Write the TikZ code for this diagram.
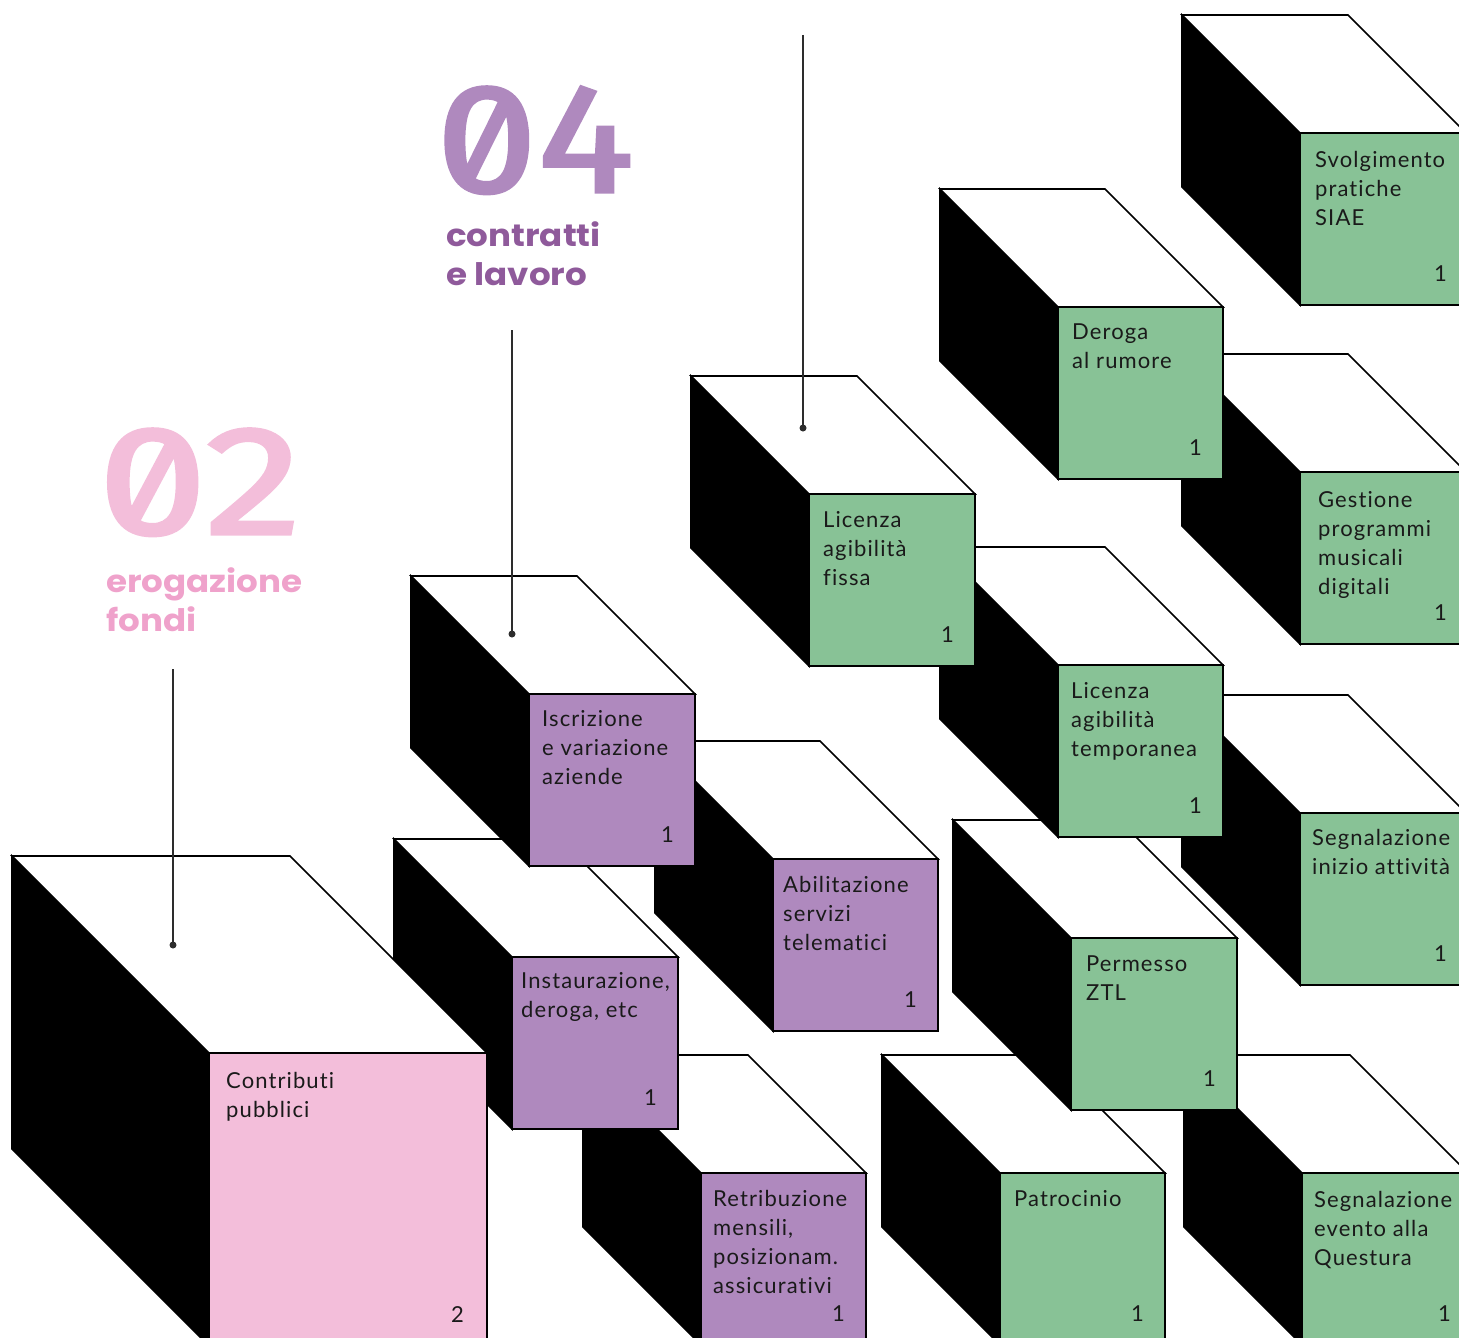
\documentclass[tikz,border=0pt]{standalone}
\usepackage{fontspec}
\setmainfont{Lato}
\newfontfamily\boxfont{Lato}[LetterSpace=5, Ligatures=NoCommon]
\newfontfamily\headfont{Poppins}
\newfontfamily\digitfont{Fira Sans}[Numbers=SlashedZero, FakeBold=2]
\definecolor{grn}{RGB}{136,194,150}
\definecolor{prp}{RGB}{175,137,190}
\definecolor{pnk}{RGB}{243,190,218}
\definecolor{prpdark}{RGB}{143,90,155}
\definecolor{pnkdark}{RGB}{239,162,203}
\definecolor{textc}{RGB}{26,26,26}
\definecolor{linec}{RGB}{45,45,45}
\tikzset{
  sideface/.style={fill=black, draw=black, line width=1.6pt, line join=miter},
  topface/.style={fill=white, draw=black, line width=1.6pt, line join=miter},
  front/.style={draw=black, line width=1.6pt, anchor=north west, inner sep=0pt, outer sep=0pt},
  lbl/.style={anchor=base west, inner sep=0pt, text=textc, font=\boxfont\fontsize{22}{29}\selectfont},
  num/.style={anchor=base east, inner sep=0pt, text=textc, font=\boxfont\fontsize{22}{29}\selectfont},
  digits/.style={anchor=base west, inner sep=0pt, text depth=0pt, font=\digitfont\fontsize{155}{155}\selectfont},
  heading/.style={anchor=base west, inner sep=0pt, font=\headfont\bfseries\fontsize{31}{39}\selectfont},
  leaddot/.style={circle, fill=linec, inner sep=0pt, minimum size=7pt},
  lead/.style={draw=linec, line width=1.3pt}
}
% #1 name, #2 x, #3 y, #4 w, #5 h, #6 depth, #7 colour
\newcommand{\cube}[7]{%
  \path[sideface] ({#2-#6},{#3-#6}) -- (#2,#3) -- (#2,{#3+#5}) -- ({#2-#6},{#3+#5-#6}) -- cycle;
  \path[topface] ({#2-#6},{#3-#6}) -- ({#2+#4-#6},{#3-#6}) -- ({#2+#4},#3) -- (#2,#3) -- cycle;
  \node[front, fill=#7, minimum width=#4pt, minimum height=#5pt] (#1) at (#2,#3) {};
}
\newcommand{\lns}[1]{\vtop{\hsize=300pt\parindent=0pt\baselineskip=29pt\raggedright\leavevmode #1}}
\newcommand{\hlns}[1]{\scalebox{1.1}[1]{\vtop{\hsize=300pt\parindent=0pt\baselineskip=39pt\raggedright\leavevmode #1}}}
\begin{document}
\begin{tikzpicture}[x=1pt,y=-1pt]
\useasboundingbox (0,0) rectangle (1459,1338);
\clip (0,0) rectangle (1459,1338);

% headings
\node[digits, text=prp] (n04) at (436,192) {\scalebox{1.17}[1]{04}};
\node[heading, text=prpdark] (h04) at (446,246) {\hlns{contratti\\e lavoro}};
\node[digits, text=pnk] (n02) at (98,534) {\scalebox{1.26}[1]{02}};
\node[heading, text=pnkdark] (h02) at (106,592) {\hlns{erogazione\\fondi}};

% cubes, back to front
\cube{svolg}{1300}{133}{166}{172}{118}{grn}
\cube{segev}{1302}{1173}{166}{172}{118}{grn}
\cube{patro}{1000}{1173}{165}{172}{118}{grn}
\cube{perm}{1071}{938}{166}{172}{118}{grn}
\cube{segin}{1300}{813}{166}{172}{118}{grn}
\cube{temp}{1058}{665}{165}{172}{118}{grn}
\cube{gest}{1300}{472}{166}{172}{118}{grn}
\cube{derog}{1058}{307}{165}{172}{118}{grn}
\cube{fissa}{809}{494}{166}{172}{118}{grn}
\cube{retr}{701}{1173}{165}{172}{118}{prp}
\cube{inst}{512}{957}{166}{172}{118}{prp}
\cube{abil}{773}{859}{165}{172}{118}{prp}
\cube{iscr}{529}{694}{166}{172}{118}{prp}
\cube{contr}{209}{1053}{278}{293}{197}{pnk}

% labels
\node[lbl] at ([shift={(15,34)}]svolg.north west) {\lns{Svolgimento\\pratiche\\SIAE}};
\node[num] at ([shift={(-19,-24)}]svolg.south east) {1};
\node[lbl] at ([shift={(14,32)}]derog.north west) {\lns{Deroga\\al rumore}};
\node[num] at ([shift={(-21,-24)}]derog.south east) {1};
\node[lbl] at ([shift={(14,33)}]fissa.north west) {\lns{Licenza\\agibilità\\fissa}};
\node[num] at ([shift={(-21,-24)}]fissa.south east) {1};
\node[lbl] at ([shift={(18,35)}]gest.north west) {\lns{Gestione\\programmi\\musicali\\digitali}};
\node[num] at ([shift={(-19,-24)}]gest.south east) {1};
\node[lbl] at ([shift={(13,33)}]temp.north west) {\lns{Licenza\\agibilità\\temporanea}};
\node[num] at ([shift={(-21,-24)}]temp.south east) {1};
\node[lbl] at ([shift={(12,32)}]segin.north west) {\lns{Segnalazione\\inizio attività}};
\node[num] at ([shift={(-19,-24)}]segin.south east) {1};
\node[lbl] at ([shift={(15,33)}]perm.north west) {\lns{Permesso\\ZTL}};
\node[num] at ([shift={(-21,-24)}]perm.south east) {1};
\node[lbl] at ([shift={(14,33)}]patro.north west) {\lns{Patrocinio}};
\node[num] at ([shift={(-21,-24)}]patro.south east) {1};
\node[lbl] at ([shift={(12,34)}]segev.north west) {\lns{Segnalazione\\evento alla\\Questura}};
\node[num] at ([shift={(-17,-24)}]segev.south east) {1};
\node[lbl] at ([shift={(13,32)}]iscr.north west) {\lns{Iscrizione\\e variazione\\aziende}};
\node[num] at ([shift={(-21,-24)}]iscr.south east) {1};
\node[lbl] at ([shift={(10,33)}]abil.north west) {\lns{Abilitazione\\servizi\\telematici}};
\node[num] at ([shift={(-21,-24)}]abil.south east) {1};
\node[lbl] at ([shift={(9,31)}]inst.north west) {\lns{Instaurazione,\\deroga, etc}};
\node[num] at ([shift={(-21,-24)}]inst.south east) {1};
\node[lbl] at ([shift={(12,33)}]retr.north west) {\lns{Retribuzione\\mensili,\\posizionam.\\assicurativi}};
\node[num] at ([shift={(-21,-24)}]retr.south east) {1};
\node[lbl] at ([shift={(17,35)}]contr.north west) {\lns{Contributi\\pubblici}};
\node[num] at ([shift={(-23,-24)}]contr.south east) {2};

% leader lines
\coordinate (t1) at (803,35);
\node[leaddot] (d1) at (803,428) {};
\draw[lead] (t1) -- (d1.center);
\coordinate (t2) at (512,330);
\node[leaddot] (d2) at (512,634) {};
\draw[lead] (t2) -- (d2.center);
\coordinate (t3) at (173,669);
\node[leaddot] (d3) at (173,945) {};
\draw[lead] (t3) -- (d3.center);
\end{tikzpicture}
\end{document}
